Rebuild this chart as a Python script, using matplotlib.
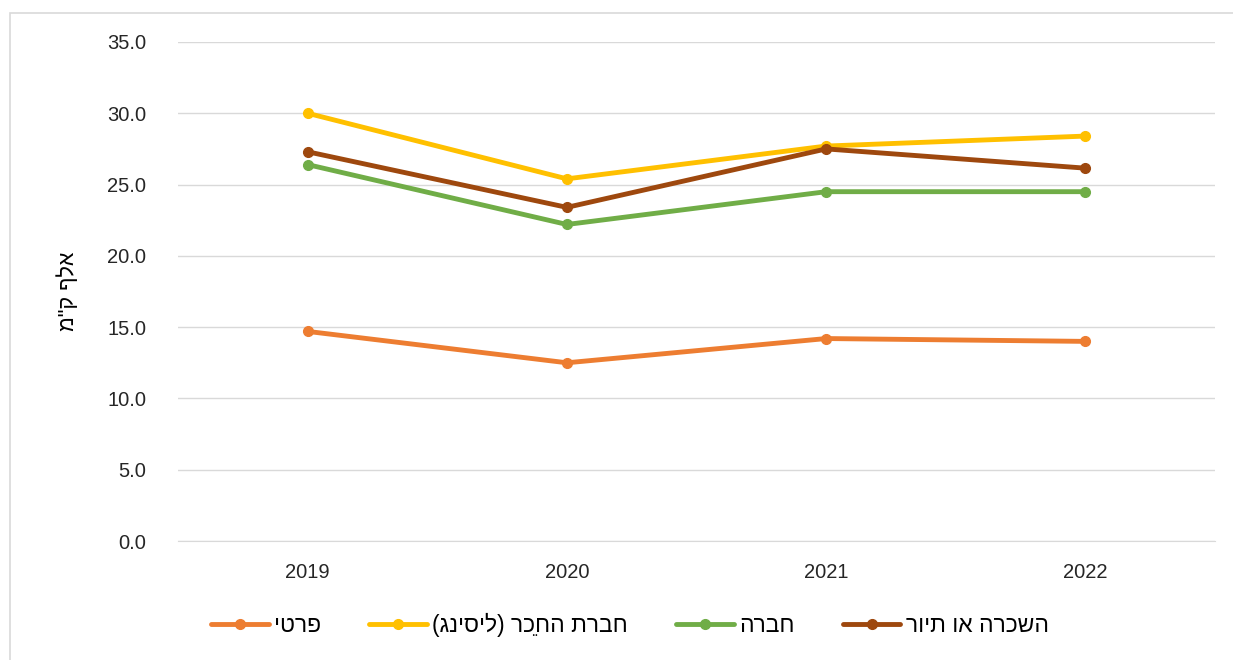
import unicodedata
import numpy as np
import matplotlib
matplotlib.use('Agg')
import matplotlib.pyplot as plt
from matplotlib.patches import Rectangle

# נתונים (אלף ק"מ)
years = ['2019', '2020', '2021', '2022']
series_names = ['פרטי', 'חברת החכֵר (ליסינג)', 'חברה', 'השכרה או תיור']
private = [14.7, 12.5, 14.2, 14.0]
leasing = [30.0, 25.4, 27.7, 28.4]
company = [26.4, 22.2, 24.5, 24.5]
rental = [27.3, 23.4, 27.5, 26.15]
colors = ['#ED7D31', '#FFC000', '#70AD47', '#9E480E']
ylabel = 'אלף ק"מ'


def rtl(s):
    """Reverse Hebrew text for display (keep combining marks with their letter)."""
    clusters = []
    for ch in s:
        if unicodedata.combining(ch) and clusters:
            clusters[-1] += ch
        else:
            clusters.append(ch)
    mirror = {'(': ')', ')': '('}
    return ''.join(mirror.get(c, c) for c in reversed(clusters))


plt.rcParams['font.family'] = ['Liberation Sans', 'DejaVu Sans']

fig = plt.figure(figsize=(12.33, 6.6), dpi=100)
ax = fig.add_axes([0.1444, 0.1803, 0.8410, 0.7561])

# moldura cinza da área do gráfico
fig.patches.append(Rectangle((10 / 1233, -0.05), 1.1, 1.05 - 13 / 660,
                             transform=fig.transFigure, fill=False,
                             edgecolor='#D9D9D9', linewidth=1.2))

x = np.arange(len(years))
for vals, name, c in zip([private, leasing, company, rental], series_names, colors):
    ax.plot(x, vals, color=c, linewidth=3.5, marker='o', markersize=7,
            label=rtl(name), solid_capstyle='round')

ax.set_xlim(-0.5, 3.5)
ax.set_ylim(0, 35)
ax.set_yticks(np.arange(0, 36, 5))
ax.set_yticklabels([f'{v:.1f}' for v in np.arange(0, 36, 5)])
ax.set_xticks(x)
ax.set_xticklabels(years)
ax.tick_params(length=0, labelsize=14.5, colors='#262626')
ax.tick_params(axis='x', pad=16)
ax.tick_params(axis='y', pad=23)
ax.grid(axis='y', color='#D9D9D9', linewidth=1)
ax.set_axisbelow(True)
for s in ['top', 'right', 'left']:
    ax.spines[s].set_visible(False)
ax.spines['bottom'].set_color('#D9D9D9')

ax.set_ylabel(rtl(ylabel), fontsize=15.5, color='#000000', labelpad=20)

ax.legend(loc='center', bbox_to_anchor=(0.436, -0.168), ncol=4, frameon=False,
          fontsize=16.5, handlelength=2.5, columnspacing=2.1, handletextpad=0.25)

plt.savefig('out.png', dpi=100)
